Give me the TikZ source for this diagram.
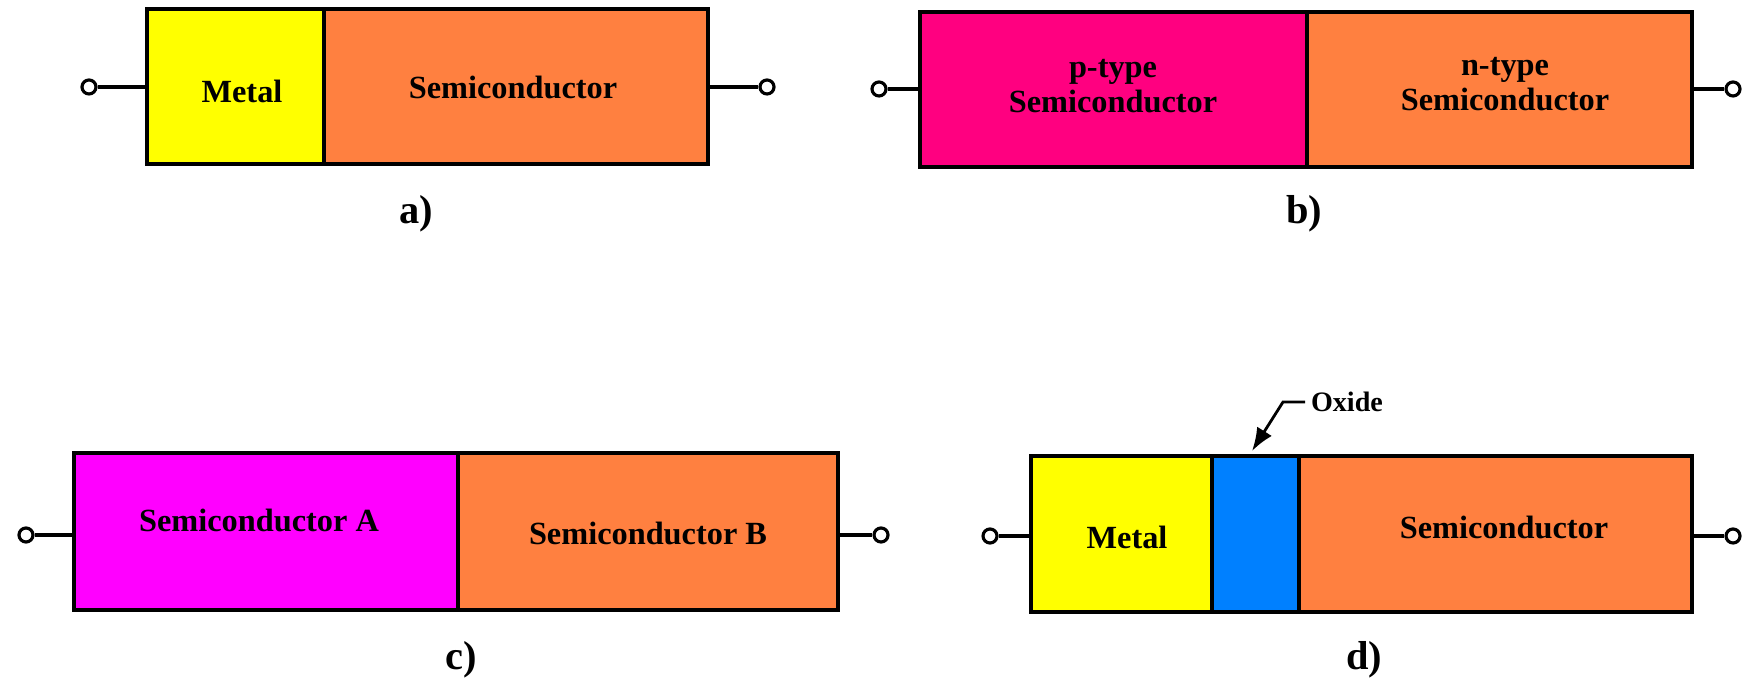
\documentclass[tikz,border=0pt]{standalone}
\usepackage{fontspec}
\setmainfont{Liberation Serif}
\usetikzlibrary{arrows.meta,calc,positioning}

\definecolor{metal}{RGB}{255,255,0}
\definecolor{semi}{RGB}{255,128,64}
\definecolor{ptype}{RGB}{255,0,128}
\definecolor{semiA}{RGB}{255,0,255}
\definecolor{oxide}{RGB}{0,128,255}

\begin{document}
\begin{tikzpicture}[>=Latex, font=\bfseries\fontsize{9.2}{10}\selectfont,
    layer/.style={draw, line width=0.9pt},
    term/.style={circle, draw, fill=white, line width=0.9pt, inner sep=0pt, minimum size=0.14cm},
    lead/.style={line width=0.9pt},
    tag/.style={font=\bfseries\fontsize{11.5}{13}\selectfont}]
    \useasboundingbox (0,0) rectangle (17.5,6.79);

    % a) metal - semiconductor
    \filldraw[layer, fill=metal] (1.47,5.15) rectangle (3.24,6.70);
    \filldraw[layer, fill=semi] (3.24,5.15) rectangle (7.08,6.70);
    \node (aM) at (2.42,5.88) {Metal};
    \node (aS) at (5.13,5.92) {Semiconductor};
    \coordinate (aL) at (1.47,5.92);
    \coordinate (aR) at (7.08,5.92);
    \node[term] (a1) at (0.89,5.92) {};
    \node[term] (a2) at (7.67,5.92) {};
    \draw[lead] (a1) -- (aL);
    \draw[lead] (aR) -- (a2);
    \node[tag] (aT) at (4.16,4.65) {a)};

    % b) p-n junction
    \filldraw[layer, fill=ptype] (9.20,5.12) rectangle (13.07,6.67);
    \filldraw[layer, fill=semi] (13.07,5.12) rectangle (16.92,6.67);
    \node[align=center] (bP) at (11.13,5.93) {p-type\\Semiconductor};
    \node[align=center] (bN) at (15.05,5.95) {n-type\\Semiconductor};
    \coordinate (bL) at (9.20,5.90);
    \coordinate (bR) at (16.92,5.90);
    \node[term] (b1) at (8.79,5.90) {};
    \node[term] (b2) at (17.33,5.90) {};
    \draw[lead] (b1) -- (bL);
    \draw[lead] (bR) -- (b2);
    \node[tag] (bT) at (13.04,4.65) {b)};

    % c) heterojunction
    \filldraw[layer, fill=semiA] (0.74,0.69) rectangle (4.58,2.26);
    \filldraw[layer, fill=semi] (4.58,0.69) rectangle (8.38,2.26);
    \node (cA) at (2.59,1.59) {Semiconductor A};
    \node (cB) at (6.48,1.46) {Semiconductor B};
    \coordinate (cL) at (0.74,1.44);
    \coordinate (cR) at (8.38,1.44);
    \node[term] (c1) at (0.26,1.44) {};
    \node[term] (c2) at (8.81,1.44) {};
    \draw[lead] (c1) -- (cL);
    \draw[lead] (cR) -- (c2);
    \node[tag] (cT) at (4.61,0.19) {c)};

    % d) metal - oxide - semiconductor
    \filldraw[layer, fill=metal] (10.31,0.67) rectangle (12.12,2.23);
    \filldraw[layer, fill=oxide] (12.12,0.67) rectangle (12.99,2.23);
    \filldraw[layer, fill=semi] (12.99,0.67) rectangle (16.92,2.23);
    \node (dM) at (11.27,1.42) {Metal};
    \node (dS) at (15.04,1.52) {Semiconductor};
    \coordinate (dL) at (10.31,1.43);
    \coordinate (dR) at (16.92,1.43);
    \node[term] (d1) at (9.90,1.43) {};
    \node[term] (d2) at (17.33,1.43) {};
    \draw[lead] (d1) -- (dL);
    \draw[lead] (dR) -- (d2);
    \node[font=\bfseries\fontsize{8}{9}\selectfont, anchor=west, inner xsep=1.5pt] (ox) at (13.05,2.77) {Oxide};
    \coordinate (oxB) at (12.83,2.77);
    \coordinate (oxT) at (12.52,2.28);
    \draw[->, line width=0.8pt] (ox.west) -- (oxB) -- (oxT);
    \node[tag] (dT) at (13.64,0.19) {d)};
\end{tikzpicture}
\end{document}
